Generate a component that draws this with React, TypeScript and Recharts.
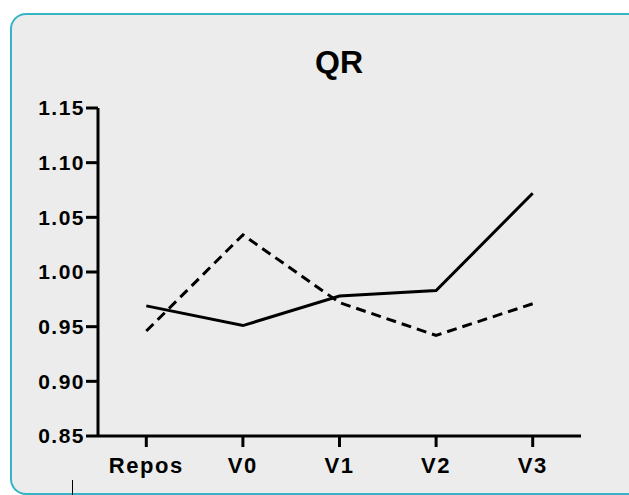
import { LineChart, Line, XAxis, YAxis } from "recharts";

const categories = ["Repos", "V0", "V1", "V2", "V3"];
const solidValues = [0.969, 0.951, 0.978, 0.983, 1.072];
const dashedValues = [0.946, 1.034, 0.972, 0.942, 0.971];
const yTicks = [0.85, 0.9, 0.95, 1.0, 1.05, 1.1, 1.15];

const data = categories.map((name, i) => ({
  name,
  solid: solidValues[i],
  dashed: dashedValues[i],
}));

const font = "'Liberation Sans', Arial, sans-serif";
const yTickStyle = {
  fill: "#000",
  fontSize: 21,
  fontWeight: 700,
  fontFamily: font,
  letterSpacing: 1.5,
};
const xTickStyle = {
  fill: "#000",
  fontSize: 22,
  fontWeight: 700,
  fontFamily: font,
  letterSpacing: 1.6,
};

export default function App() {
  return (
    <div
      style={{
        position: "fixed",
        left: 0,
        top: 0,
        right: 0,
        bottom: 0,
        overflow: "hidden",
        background: "#fff",
      }}
    >
      {/* panel runs off the right edge, so no right border / right corners */}
      <div
        style={{
          position: "absolute",
          left: 10,
          top: 13,
          width: 900,
          height: 478,
          borderTop: "2px solid #35b5c4",
          borderLeft: "2px solid #35b5c4",
          borderBottom: "2px solid #35b5c4",
          borderRadius: "16px 0 0 16px",
          background: "#ebeceb",
        }}
      />
      <div
        style={{
          position: "absolute",
          left: 72,
          top: 480,
          width: 1,
          height: 15,
          background: "#000",
        }}
      />
      <div
        style={{
          position: "absolute",
          left: 0,
          top: 43,
          width: 678,
          textAlign: "center",
          fontFamily: font,
          fontWeight: 700,
          fontSize: 32,
          lineHeight: "38px",
          color: "#000",
        }}
      >
        QR
      </div>
      <div style={{ position: "absolute", left: 0, top: 0 }}>
        <LineChart
          width={629}
          height={495}
          data={data}
          margin={{ top: 108, right: 48, bottom: 0, left: 0 }}
        >
          <XAxis
            dataKey="name"
            scale="band"
            height={59}
            tickSize={11}
            tickMargin={10}
            tick={xTickStyle}
            axisLine={{ stroke: "#000", strokeWidth: 3 }}
            tickLine={{ stroke: "#000", strokeWidth: 3 }}
          />
          <YAxis
            width={98}
            domain={[0.85, 1.15]}
            ticks={yTicks}
            interval={0}
            tickFormatter={(v: number) => v.toFixed(2)}
            tickSize={12}
            tickMargin={1}
            tick={yTickStyle}
            axisLine={{ stroke: "#000", strokeWidth: 3 }}
            tickLine={{ stroke: "#000", strokeWidth: 3 }}
          />
          <Line
            type="linear"
            dataKey="solid"
            stroke="#000"
            strokeWidth={3}
            dot={false}
            isAnimationActive={false}
          />
          <Line
            type="linear"
            dataKey="dashed"
            stroke="#000"
            strokeWidth={3}
            strokeDasharray="10 6"
            dot={false}
            isAnimationActive={false}
          />
        </LineChart>
      </div>
    </div>
  );
}
